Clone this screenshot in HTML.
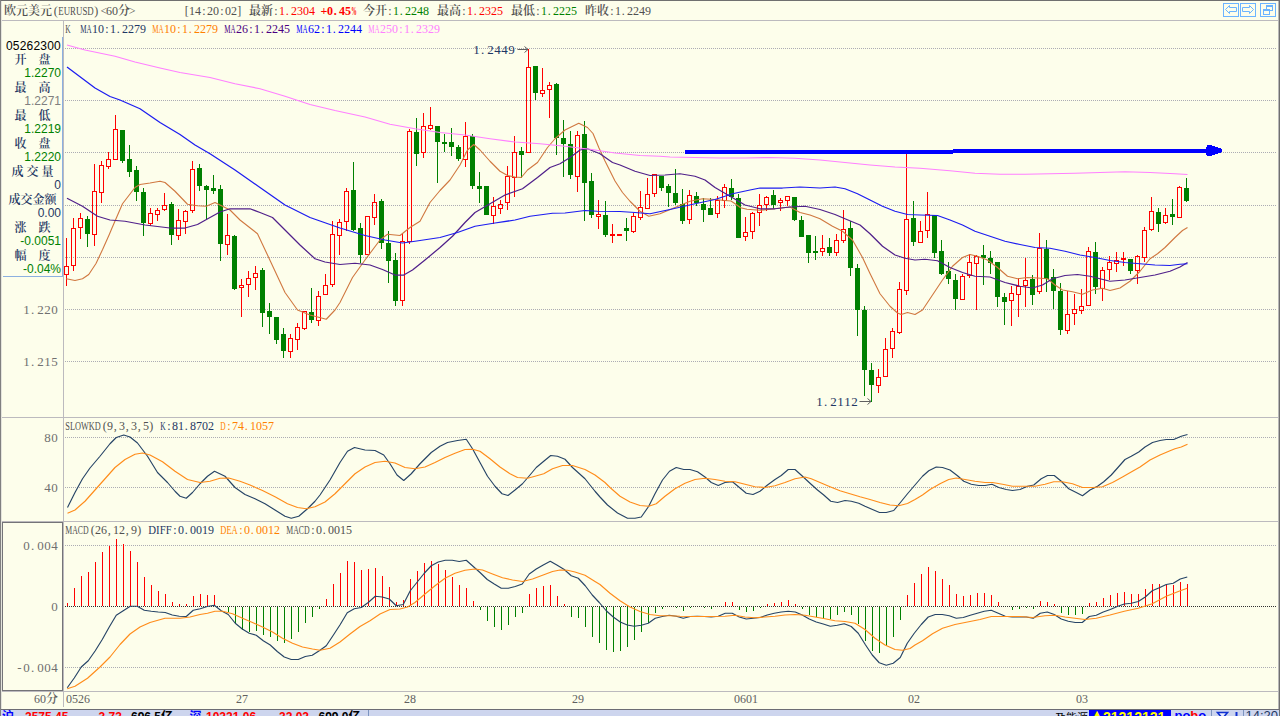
<!DOCTYPE html>
<html lang="zh-CN"><head><meta charset="utf-8"><title>欧元美元(EURUSD) 60分</title>
<style>html,body{margin:0;padding:0;background:#FDFEEB;}
body{width:1280px;height:716px;overflow:hidden;position:relative;font-family:"Liberation Serif","Noto Serif CJK SC",serif;}
svg text{white-space:pre;}</style></head>
<body>
<svg width="1280" height="716" viewBox="0 0 1280 716" style="position:absolute;left:0;top:0;display:block">
<rect x="0" y="0" width="1280" height="716" fill="#FDFEEB" />
<g shape-rendering="crispEdges">
<line x1="2" y1="20.5" x2="1278" y2="20.5" stroke="#BCBABE" stroke-width="1" />
<line x1="63.5" y1="21" x2="63.5" y2="707" stroke="#BCBABE" stroke-width="1" />
<line x1="2" y1="417.5" x2="1278" y2="417.5" stroke="#BCBABE" stroke-width="1" />
<line x1="2" y1="521.5" x2="1278" y2="521.5" stroke="#BCBABE" stroke-width="1" />
<line x1="2" y1="691.5" x2="1278" y2="691.5" stroke="#BCBABE" stroke-width="1" />
<line x1="62.5" y1="37" x2="62.5" y2="277" stroke="#8CB0E0" stroke-width="1" />
<line x1="3" y1="276.5" x2="63" y2="276.5" stroke="#8CB0E0" stroke-width="1" />
<rect x="2.5" y="522.5" width="60" height="168" fill="none" stroke="#747478" />
<line x1="65" y1="48.5" x2="1277" y2="48.5" stroke="#ACACB4" stroke-width="1" stroke-dasharray="1 1"/>
<line x1="65" y1="100.5" x2="1277" y2="100.5" stroke="#ACACB4" stroke-width="1" stroke-dasharray="1 1"/>
<line x1="65" y1="152.5" x2="1277" y2="152.5" stroke="#ACACB4" stroke-width="1" stroke-dasharray="1 1"/>
<line x1="65" y1="205.5" x2="1277" y2="205.5" stroke="#ACACB4" stroke-width="1" stroke-dasharray="1 1"/>
<line x1="65" y1="257.5" x2="1277" y2="257.5" stroke="#ACACB4" stroke-width="1" stroke-dasharray="1 1"/>
<line x1="65" y1="309.5" x2="1277" y2="309.5" stroke="#ACACB4" stroke-width="1" stroke-dasharray="1 1"/>
<line x1="65" y1="361.5" x2="1277" y2="361.5" stroke="#ACACB4" stroke-width="1" stroke-dasharray="1 1"/>
<line x1="65" y1="437.5" x2="1277" y2="437.5" stroke="#ACACB4" stroke-width="1" stroke-dasharray="1 1"/>
<line x1="65" y1="487.5" x2="1277" y2="487.5" stroke="#ACACB4" stroke-width="1" stroke-dasharray="1 1"/>
<line x1="65" y1="545.5" x2="1277" y2="545.5" stroke="#ACACB4" stroke-width="1" stroke-dasharray="1 1"/>
<line x1="65" y1="667.5" x2="1277" y2="667.5" stroke="#ACACB4" stroke-width="1" stroke-dasharray="1 1"/>
<line x1="65" y1="606.5" x2="1277" y2="606.5" stroke="#303030" stroke-width="1" stroke-dasharray="1 1"/>
<line x1="0" y1="0.5" x2="1280" y2="0.5" stroke="#707070" stroke-width="1" />
<line x1="0.5" y1="0" x2="0.5" y2="716" stroke="#808080" stroke-width="1" />
<line x1="1.5" y1="1" x2="1.5" y2="716" stroke="#E4E4DC" stroke-width="1" />
<line x1="1279.5" y1="0" x2="1279.5" y2="716" stroke="#707070" stroke-width="1" />
<line x1="1278.5" y1="1" x2="1278.5" y2="716" stroke="#B8B8B8" stroke-width="1" />
</g>
<g shape-rendering="crispEdges">
<rect x="66" y="238" width="1" height="28" fill="#FF0000" />
<rect x="66" y="275" width="1" height="11" fill="#FF0000" />
<rect x="64.5" y="266.5" width="4" height="8" fill="none" stroke="#FF0000" />
<rect x="73" y="218" width="1" height="10" fill="#FF0000" />
<rect x="73" y="266" width="1" height="5" fill="#FF0000" />
<rect x="71.5" y="228.5" width="4" height="37" fill="none" stroke="#FF0000" />
<rect x="80" y="213" width="1" height="5" fill="#FF0000" />
<rect x="80" y="228" width="1" height="11" fill="#FF0000" />
<rect x="78.5" y="218.5" width="4" height="9" fill="none" stroke="#FF0000" />
<rect x="87" y="216" width="1" height="31" fill="#008000" />
<rect x="85" y="219" width="5" height="15" fill="#008000" />
<rect x="94" y="164" width="1" height="27" fill="#FF0000" />
<rect x="94" y="235" width="1" height="11" fill="#FF0000" />
<rect x="92.5" y="191.5" width="4" height="43" fill="none" stroke="#FF0000" />
<rect x="101" y="161" width="1" height="4" fill="#FF0000" />
<rect x="101" y="193" width="1" height="10" fill="#FF0000" />
<rect x="99.5" y="165.5" width="4" height="27" fill="none" stroke="#FF0000" />
<rect x="108" y="152" width="1" height="7" fill="#FF0000" />
<rect x="108" y="167" width="1" height="2" fill="#FF0000" />
<rect x="106.5" y="159.5" width="4" height="7" fill="none" stroke="#FF0000" />
<rect x="115" y="115" width="1" height="14" fill="#FF0000" />
<rect x="113.5" y="129.5" width="4" height="30" fill="none" stroke="#FF0000" />
<rect x="122" y="130" width="1" height="33" fill="#008000" />
<rect x="120" y="130" width="5" height="31" fill="#008000" />
<rect x="129" y="145" width="1" height="32" fill="#008000" />
<rect x="127" y="159" width="5" height="13" fill="#008000" />
<rect x="136" y="166" width="1" height="35" fill="#008000" />
<rect x="134" y="170" width="5" height="22" fill="#008000" />
<rect x="143" y="188" width="1" height="48" fill="#008000" />
<rect x="141" y="192" width="5" height="31" fill="#008000" />
<rect x="150" y="208" width="1" height="5" fill="#FF0000" />
<rect x="150" y="224" width="1" height="2" fill="#FF0000" />
<rect x="148.5" y="213.5" width="4" height="10" fill="none" stroke="#FF0000" />
<rect x="157" y="208" width="1" height="2" fill="#FF0000" />
<rect x="157" y="215" width="1" height="6" fill="#FF0000" />
<rect x="155.5" y="210.5" width="4" height="4" fill="none" stroke="#FF0000" />
<rect x="164" y="193" width="1" height="12" fill="#FF0000" />
<rect x="164" y="210" width="1" height="1" fill="#FF0000" />
<rect x="162.5" y="205.5" width="4" height="4" fill="none" stroke="#FF0000" />
<rect x="171" y="202" width="1" height="43" fill="#008000" />
<rect x="169" y="204" width="5" height="31" fill="#008000" />
<rect x="178" y="209" width="1" height="11" fill="#FF0000" />
<rect x="178" y="236" width="1" height="4" fill="#FF0000" />
<rect x="176.5" y="220.5" width="4" height="15" fill="none" stroke="#FF0000" />
<rect x="185" y="210" width="1" height="1" fill="#FF0000" />
<rect x="185" y="222" width="1" height="12" fill="#FF0000" />
<rect x="183.5" y="211.5" width="4" height="10" fill="none" stroke="#FF0000" />
<rect x="192" y="161" width="1" height="8" fill="#FF0000" />
<rect x="192" y="211" width="1" height="2" fill="#FF0000" />
<rect x="190.5" y="169.5" width="4" height="41" fill="none" stroke="#FF0000" />
<rect x="199" y="164" width="1" height="27" fill="#008000" />
<rect x="197" y="168" width="5" height="18" fill="#008000" />
<rect x="206" y="185" width="1" height="35" fill="#008000" />
<rect x="204" y="186" width="5" height="4" fill="#008000" />
<rect x="213" y="175" width="1" height="19" fill="#008000" />
<rect x="211" y="188" width="5" height="3" fill="#008000" />
<rect x="220" y="185" width="1" height="76" fill="#008000" />
<rect x="218" y="189" width="5" height="55" fill="#008000" />
<rect x="227" y="214" width="1" height="21" fill="#FF0000" />
<rect x="227" y="245" width="1" height="10" fill="#FF0000" />
<rect x="225.5" y="235.5" width="4" height="9" fill="none" stroke="#FF0000" />
<rect x="234" y="235" width="1" height="55" fill="#008000" />
<rect x="232" y="236" width="5" height="53" fill="#008000" />
<rect x="241" y="279" width="1" height="6" fill="#FF0000" />
<rect x="241" y="288" width="1" height="29" fill="#FF0000" />
<rect x="239.5" y="285.5" width="4" height="2" fill="none" stroke="#FF0000" />
<rect x="248" y="271" width="1" height="7" fill="#FF0000" />
<rect x="248" y="285" width="1" height="12" fill="#FF0000" />
<rect x="246.5" y="278.5" width="4" height="6" fill="none" stroke="#FF0000" />
<rect x="255" y="266" width="1" height="7" fill="#FF0000" />
<rect x="255" y="278" width="1" height="12" fill="#FF0000" />
<rect x="253.5" y="273.5" width="4" height="4" fill="none" stroke="#FF0000" />
<rect x="262" y="268" width="1" height="59" fill="#008000" />
<rect x="260" y="270" width="5" height="43" fill="#008000" />
<rect x="269" y="303" width="1" height="31" fill="#008000" />
<rect x="267" y="311" width="5" height="6" fill="#008000" />
<rect x="276" y="317" width="1" height="27" fill="#008000" />
<rect x="274" y="317" width="5" height="23" fill="#008000" />
<rect x="283" y="328" width="1" height="30" fill="#008000" />
<rect x="281" y="334" width="5" height="17" fill="#008000" />
<rect x="290" y="334" width="1" height="4" fill="#FF0000" />
<rect x="290" y="352" width="1" height="6" fill="#FF0000" />
<rect x="288.5" y="338.5" width="4" height="13" fill="none" stroke="#FF0000" />
<rect x="297" y="323" width="1" height="4" fill="#FF0000" />
<rect x="297" y="340" width="1" height="10" fill="#FF0000" />
<rect x="295.5" y="327.5" width="4" height="12" fill="none" stroke="#FF0000" />
<rect x="304" y="329" width="1" height="1" fill="#FF0000" />
<rect x="302.5" y="311.5" width="4" height="17" fill="none" stroke="#FF0000" />
<rect x="311" y="288" width="1" height="35" fill="#008000" />
<rect x="309" y="312" width="5" height="8" fill="#008000" />
<rect x="318" y="291" width="1" height="5" fill="#FF0000" />
<rect x="318" y="321" width="1" height="5" fill="#FF0000" />
<rect x="316.5" y="296.5" width="4" height="24" fill="none" stroke="#FF0000" />
<rect x="325" y="274" width="1" height="11" fill="#FF0000" />
<rect x="323.5" y="285.5" width="4" height="9" fill="none" stroke="#FF0000" />
<rect x="332" y="221" width="1" height="13" fill="#FF0000" />
<rect x="332" y="285" width="1" height="2" fill="#FF0000" />
<rect x="330.5" y="234.5" width="4" height="50" fill="none" stroke="#FF0000" />
<rect x="339" y="219" width="1" height="3" fill="#FF0000" />
<rect x="339" y="236" width="1" height="19" fill="#FF0000" />
<rect x="337.5" y="222.5" width="4" height="13" fill="none" stroke="#FF0000" />
<rect x="346" y="188" width="1" height="3" fill="#FF0000" />
<rect x="346" y="222" width="1" height="9" fill="#FF0000" />
<rect x="344.5" y="191.5" width="4" height="30" fill="none" stroke="#FF0000" />
<rect x="353" y="162" width="1" height="69" fill="#008000" />
<rect x="351" y="190" width="5" height="40" fill="#008000" />
<rect x="360" y="223" width="1" height="40" fill="#008000" />
<rect x="358" y="228" width="5" height="27" fill="#008000" />
<rect x="365.5" y="216.5" width="4" height="38" fill="none" stroke="#FF0000" />
<rect x="374" y="194" width="1" height="8" fill="#FF0000" />
<rect x="374" y="218" width="1" height="7" fill="#FF0000" />
<rect x="372.5" y="202.5" width="4" height="15" fill="none" stroke="#FF0000" />
<rect x="381" y="199" width="1" height="50" fill="#008000" />
<rect x="379" y="201" width="5" height="42" fill="#008000" />
<rect x="388" y="231" width="1" height="52" fill="#008000" />
<rect x="386" y="243" width="5" height="18" fill="#008000" />
<rect x="395" y="253" width="1" height="53" fill="#008000" />
<rect x="393" y="260" width="5" height="41" fill="#008000" />
<rect x="402" y="233" width="1" height="8" fill="#FF0000" />
<rect x="402" y="301" width="1" height="5" fill="#FF0000" />
<rect x="400.5" y="241.5" width="4" height="59" fill="none" stroke="#FF0000" />
<rect x="409" y="129" width="1" height="2" fill="#FF0000" />
<rect x="409" y="242" width="1" height="2" fill="#FF0000" />
<rect x="407.5" y="131.5" width="4" height="110" fill="none" stroke="#FF0000" />
<rect x="416" y="118" width="1" height="48" fill="#008000" />
<rect x="414" y="132" width="5" height="22" fill="#008000" />
<rect x="423" y="113" width="1" height="13" fill="#FF0000" />
<rect x="423" y="153" width="1" height="5" fill="#FF0000" />
<rect x="421.5" y="126.5" width="4" height="26" fill="none" stroke="#FF0000" />
<rect x="430" y="107" width="1" height="18" fill="#FF0000" />
<rect x="430" y="129" width="1" height="1" fill="#FF0000" />
<rect x="428.5" y="125.5" width="4" height="3" fill="none" stroke="#FF0000" />
<rect x="437" y="126" width="1" height="57" fill="#008000" />
<rect x="435" y="126" width="5" height="16" fill="#008000" />
<rect x="444" y="134" width="1" height="18" fill="#008000" />
<rect x="442" y="142" width="5" height="2" fill="#008000" />
<rect x="451" y="128" width="1" height="28" fill="#008000" />
<rect x="449" y="142" width="5" height="5" fill="#008000" />
<rect x="458" y="145" width="1" height="16" fill="#008000" />
<rect x="456" y="147" width="5" height="12" fill="#008000" />
<rect x="465" y="122" width="1" height="14" fill="#FF0000" />
<rect x="465" y="160" width="1" height="7" fill="#FF0000" />
<rect x="463.5" y="136.5" width="4" height="23" fill="none" stroke="#FF0000" />
<rect x="472" y="134" width="1" height="55" fill="#008000" />
<rect x="470" y="136" width="5" height="50" fill="#008000" />
<rect x="479" y="172" width="1" height="31" fill="#008000" />
<rect x="477" y="186" width="5" height="3" fill="#008000" />
<rect x="486" y="186" width="1" height="29" fill="#008000" />
<rect x="484" y="186" width="5" height="29" fill="#008000" />
<rect x="493" y="197" width="1" height="9" fill="#FF0000" />
<rect x="493" y="216" width="1" height="8" fill="#FF0000" />
<rect x="491.5" y="206.5" width="4" height="9" fill="none" stroke="#FF0000" />
<rect x="500" y="200" width="1" height="4" fill="#FF0000" />
<rect x="500" y="209" width="1" height="5" fill="#FF0000" />
<rect x="498.5" y="204.5" width="4" height="4" fill="none" stroke="#FF0000" />
<rect x="507" y="166" width="1" height="10" fill="#FF0000" />
<rect x="507" y="203" width="1" height="7" fill="#FF0000" />
<rect x="505.5" y="176.5" width="4" height="26" fill="none" stroke="#FF0000" />
<rect x="514" y="136" width="1" height="16" fill="#FF0000" />
<rect x="514" y="178" width="1" height="19" fill="#FF0000" />
<rect x="512.5" y="152.5" width="4" height="25" fill="none" stroke="#FF0000" />
<rect x="521" y="147" width="1" height="31" fill="#008000" />
<rect x="519" y="151" width="5" height="4" fill="#008000" />
<rect x="528" y="49" width="1" height="18" fill="#FF0000" />
<rect x="526.5" y="67.5" width="4" height="85" fill="none" stroke="#FF0000" />
<rect x="535" y="66" width="1" height="34" fill="#008000" />
<rect x="533" y="66" width="5" height="27" fill="#008000" />
<rect x="542" y="68" width="1" height="22" fill="#FF0000" />
<rect x="542" y="94" width="1" height="3" fill="#FF0000" />
<rect x="540.5" y="90.5" width="4" height="3" fill="none" stroke="#FF0000" />
<rect x="549" y="82" width="1" height="3" fill="#FF0000" />
<rect x="549" y="90" width="1" height="28" fill="#FF0000" />
<rect x="547.5" y="85.5" width="4" height="4" fill="none" stroke="#FF0000" />
<rect x="556" y="83" width="1" height="72" fill="#008000" />
<rect x="554" y="84" width="5" height="54" fill="#008000" />
<rect x="563" y="120" width="1" height="57" fill="#008000" />
<rect x="561" y="138" width="5" height="6" fill="#008000" />
<rect x="570" y="131" width="1" height="48" fill="#008000" />
<rect x="568" y="144" width="5" height="31" fill="#008000" />
<rect x="577" y="131" width="1" height="4" fill="#FF0000" />
<rect x="577" y="177" width="1" height="15" fill="#FF0000" />
<rect x="575.5" y="135.5" width="4" height="41" fill="none" stroke="#FF0000" />
<rect x="584" y="121" width="1" height="100" fill="#008000" />
<rect x="582" y="134" width="5" height="49" fill="#008000" />
<rect x="591" y="173" width="1" height="45" fill="#008000" />
<rect x="589" y="181" width="5" height="34" fill="#008000" />
<rect x="598" y="200" width="1" height="14" fill="#FF0000" />
<rect x="598" y="217" width="1" height="12" fill="#FF0000" />
<rect x="596.5" y="214.5" width="4" height="2" fill="none" stroke="#FF0000" />
<rect x="605" y="201" width="1" height="36" fill="#008000" />
<rect x="603" y="215" width="5" height="20" fill="#008000" />
<rect x="612" y="224" width="1" height="10" fill="#FF0000" />
<rect x="612" y="236" width="1" height="7" fill="#FF0000" />
<rect x="610.5" y="234.5" width="4" height="1" fill="none" stroke="#FF0000" />
<rect x="617.5" y="234.5" width="4" height="1" fill="none" stroke="#FF0000" />
<rect x="626" y="218" width="1" height="23" fill="#008000" />
<rect x="624" y="228" width="5" height="3" fill="#008000" />
<rect x="633" y="213" width="1" height="3" fill="#FF0000" />
<rect x="633" y="232" width="1" height="1" fill="#FF0000" />
<rect x="631.5" y="216.5" width="4" height="15" fill="none" stroke="#FF0000" />
<rect x="640" y="191" width="1" height="16" fill="#FF0000" />
<rect x="640" y="218" width="1" height="2" fill="#FF0000" />
<rect x="638.5" y="207.5" width="4" height="10" fill="none" stroke="#FF0000" />
<rect x="647" y="178" width="1" height="16" fill="#FF0000" />
<rect x="645.5" y="194.5" width="4" height="14" fill="none" stroke="#FF0000" />
<rect x="654" y="194" width="1" height="3" fill="#FF0000" />
<rect x="652.5" y="174.5" width="4" height="19" fill="none" stroke="#FF0000" />
<rect x="661" y="176" width="1" height="15" fill="#008000" />
<rect x="659" y="176" width="5" height="12" fill="#008000" />
<rect x="668" y="184" width="1" height="23" fill="#008000" />
<rect x="666" y="186" width="5" height="7" fill="#008000" />
<rect x="675" y="169" width="1" height="36" fill="#008000" />
<rect x="673" y="193" width="5" height="10" fill="#008000" />
<rect x="682" y="189" width="1" height="35" fill="#008000" />
<rect x="680" y="204" width="5" height="17" fill="#008000" />
<rect x="689" y="190" width="1" height="5" fill="#FF0000" />
<rect x="689" y="220" width="1" height="4" fill="#FF0000" />
<rect x="687.5" y="195.5" width="4" height="24" fill="none" stroke="#FF0000" />
<rect x="696" y="192" width="1" height="14" fill="#008000" />
<rect x="694" y="196" width="5" height="7" fill="#008000" />
<rect x="703" y="198" width="1" height="24" fill="#008000" />
<rect x="701" y="204" width="5" height="6" fill="#008000" />
<rect x="710" y="198" width="1" height="17" fill="#008000" />
<rect x="708" y="208" width="5" height="7" fill="#008000" />
<rect x="717" y="196" width="1" height="4" fill="#FF0000" />
<rect x="717" y="214" width="1" height="4" fill="#FF0000" />
<rect x="715.5" y="200.5" width="4" height="13" fill="none" stroke="#FF0000" />
<rect x="724" y="184" width="1" height="3" fill="#FF0000" />
<rect x="724" y="201" width="1" height="7" fill="#FF0000" />
<rect x="722.5" y="187.5" width="4" height="13" fill="none" stroke="#FF0000" />
<rect x="731" y="179" width="1" height="21" fill="#008000" />
<rect x="729" y="188" width="5" height="9" fill="#008000" />
<rect x="738" y="194" width="1" height="44" fill="#008000" />
<rect x="736" y="198" width="5" height="40" fill="#008000" />
<rect x="745" y="217" width="1" height="15" fill="#FF0000" />
<rect x="745" y="237" width="1" height="4" fill="#FF0000" />
<rect x="743.5" y="232.5" width="4" height="4" fill="none" stroke="#FF0000" />
<rect x="752" y="212" width="1" height="1" fill="#FF0000" />
<rect x="752" y="232" width="1" height="7" fill="#FF0000" />
<rect x="750.5" y="213.5" width="4" height="18" fill="none" stroke="#FF0000" />
<rect x="759" y="194" width="1" height="11" fill="#FF0000" />
<rect x="759" y="213" width="1" height="13" fill="#FF0000" />
<rect x="757.5" y="205.5" width="4" height="7" fill="none" stroke="#FF0000" />
<rect x="766" y="196" width="1" height="1" fill="#FF0000" />
<rect x="766" y="205" width="1" height="6" fill="#FF0000" />
<rect x="764.5" y="197.5" width="4" height="7" fill="none" stroke="#FF0000" />
<rect x="773" y="190" width="1" height="19" fill="#008000" />
<rect x="771" y="195" width="5" height="10" fill="#008000" />
<rect x="780" y="198" width="1" height="2" fill="#FF0000" />
<rect x="780" y="203" width="1" height="8" fill="#FF0000" />
<rect x="778.5" y="200.5" width="4" height="2" fill="none" stroke="#FF0000" />
<rect x="787" y="201" width="1" height="5" fill="#FF0000" />
<rect x="785.5" y="196.5" width="4" height="4" fill="none" stroke="#FF0000" />
<rect x="794" y="197" width="1" height="24" fill="#008000" />
<rect x="792" y="197" width="5" height="23" fill="#008000" />
<rect x="801" y="216" width="1" height="21" fill="#008000" />
<rect x="799" y="220" width="5" height="17" fill="#008000" />
<rect x="808" y="235" width="1" height="28" fill="#008000" />
<rect x="806" y="235" width="5" height="18" fill="#008000" />
<rect x="815" y="236" width="1" height="24" fill="#008000" />
<rect x="813" y="251" width="5" height="2" fill="#008000" />
<rect x="822" y="235" width="1" height="13" fill="#FF0000" />
<rect x="822" y="252" width="1" height="4" fill="#FF0000" />
<rect x="820.5" y="248.5" width="4" height="3" fill="none" stroke="#FF0000" />
<rect x="829" y="238" width="1" height="18" fill="#008000" />
<rect x="827" y="247" width="5" height="6" fill="#008000" />
<rect x="836" y="234" width="1" height="6" fill="#FF0000" />
<rect x="836" y="253" width="1" height="3" fill="#FF0000" />
<rect x="834.5" y="240.5" width="4" height="12" fill="none" stroke="#FF0000" />
<rect x="843" y="210" width="1" height="19" fill="#FF0000" />
<rect x="843" y="241" width="1" height="2" fill="#FF0000" />
<rect x="841.5" y="229.5" width="4" height="11" fill="none" stroke="#FF0000" />
<rect x="850" y="221" width="1" height="55" fill="#008000" />
<rect x="848" y="228" width="5" height="40" fill="#008000" />
<rect x="857" y="264" width="1" height="72" fill="#008000" />
<rect x="855" y="268" width="5" height="42" fill="#008000" />
<rect x="864" y="306" width="1" height="90" fill="#008000" />
<rect x="862" y="310" width="5" height="60" fill="#008000" />
<rect x="871" y="363" width="1" height="39" fill="#008000" />
<rect x="869" y="370" width="5" height="15" fill="#008000" />
<rect x="878" y="369" width="1" height="8" fill="#FF0000" />
<rect x="878" y="386" width="1" height="7" fill="#FF0000" />
<rect x="876.5" y="377.5" width="4" height="8" fill="none" stroke="#FF0000" />
<rect x="885" y="338" width="1" height="11" fill="#FF0000" />
<rect x="883.5" y="349.5" width="4" height="27" fill="none" stroke="#FF0000" />
<rect x="892" y="328" width="1" height="3" fill="#FF0000" />
<rect x="892" y="349" width="1" height="9" fill="#FF0000" />
<rect x="890.5" y="331.5" width="4" height="17" fill="none" stroke="#FF0000" />
<rect x="899" y="282" width="1" height="7" fill="#FF0000" />
<rect x="899" y="333" width="1" height="1" fill="#FF0000" />
<rect x="897.5" y="289.5" width="4" height="43" fill="none" stroke="#FF0000" />
<rect x="906" y="154" width="1" height="65" fill="#FF0000" />
<rect x="906" y="291" width="1" height="4" fill="#FF0000" />
<rect x="904.5" y="219.5" width="4" height="71" fill="none" stroke="#FF0000" />
<rect x="913" y="201" width="1" height="45" fill="#008000" />
<rect x="911" y="218" width="5" height="24" fill="#008000" />
<rect x="920" y="221" width="1" height="10" fill="#FF0000" />
<rect x="918.5" y="231.5" width="4" height="11" fill="none" stroke="#FF0000" />
<rect x="927" y="192" width="1" height="22" fill="#FF0000" />
<rect x="927" y="231" width="1" height="7" fill="#FF0000" />
<rect x="925.5" y="214.5" width="4" height="16" fill="none" stroke="#FF0000" />
<rect x="934" y="215" width="1" height="43" fill="#008000" />
<rect x="932" y="215" width="5" height="38" fill="#008000" />
<rect x="941" y="240" width="1" height="35" fill="#008000" />
<rect x="939" y="251" width="5" height="23" fill="#008000" />
<rect x="948" y="262" width="1" height="22" fill="#008000" />
<rect x="946" y="271" width="5" height="8" fill="#008000" />
<rect x="955" y="274" width="1" height="36" fill="#008000" />
<rect x="953" y="280" width="5" height="19" fill="#008000" />
<rect x="962" y="274" width="1" height="2" fill="#FF0000" />
<rect x="960.5" y="276.5" width="4" height="23" fill="none" stroke="#FF0000" />
<rect x="969" y="254" width="1" height="8" fill="#FF0000" />
<rect x="969" y="276" width="1" height="2" fill="#FF0000" />
<rect x="967.5" y="262.5" width="4" height="13" fill="none" stroke="#FF0000" />
<rect x="976" y="255" width="1" height="1" fill="#FF0000" />
<rect x="976" y="264" width="1" height="46" fill="#FF0000" />
<rect x="974.5" y="256.5" width="4" height="7" fill="none" stroke="#FF0000" />
<rect x="983" y="245" width="1" height="40" fill="#008000" />
<rect x="981" y="255" width="5" height="3" fill="#008000" />
<rect x="990" y="251" width="1" height="23" fill="#008000" />
<rect x="988" y="258" width="5" height="5" fill="#008000" />
<rect x="997" y="262" width="1" height="45" fill="#008000" />
<rect x="995" y="262" width="5" height="35" fill="#008000" />
<rect x="1004" y="293" width="1" height="32" fill="#008000" />
<rect x="1002" y="297" width="5" height="5" fill="#008000" />
<rect x="1011" y="286" width="1" height="7" fill="#FF0000" />
<rect x="1011" y="301" width="1" height="25" fill="#FF0000" />
<rect x="1009.5" y="293.5" width="4" height="7" fill="none" stroke="#FF0000" />
<rect x="1018" y="278" width="1" height="8" fill="#FF0000" />
<rect x="1018" y="295" width="1" height="22" fill="#FF0000" />
<rect x="1016.5" y="286.5" width="4" height="8" fill="none" stroke="#FF0000" />
<rect x="1025" y="258" width="1" height="22" fill="#FF0000" />
<rect x="1025" y="286" width="1" height="21" fill="#FF0000" />
<rect x="1023.5" y="280.5" width="4" height="5" fill="none" stroke="#FF0000" />
<rect x="1032" y="275" width="1" height="30" fill="#008000" />
<rect x="1030" y="279" width="5" height="16" fill="#008000" />
<rect x="1039" y="233" width="1" height="15" fill="#FF0000" />
<rect x="1039" y="292" width="1" height="2" fill="#FF0000" />
<rect x="1037.5" y="248.5" width="4" height="43" fill="none" stroke="#FF0000" />
<rect x="1046" y="240" width="1" height="52" fill="#008000" />
<rect x="1044" y="249" width="5" height="30" fill="#008000" />
<rect x="1053" y="269" width="1" height="40" fill="#008000" />
<rect x="1051" y="277" width="5" height="14" fill="#008000" />
<rect x="1060" y="283" width="1" height="52" fill="#008000" />
<rect x="1058" y="291" width="5" height="39" fill="#008000" />
<rect x="1067" y="291" width="1" height="23" fill="#FF0000" />
<rect x="1067" y="331" width="1" height="3" fill="#FF0000" />
<rect x="1065.5" y="314.5" width="4" height="16" fill="none" stroke="#FF0000" />
<rect x="1074" y="294" width="1" height="15" fill="#FF0000" />
<rect x="1074" y="314" width="1" height="11" fill="#FF0000" />
<rect x="1072.5" y="309.5" width="4" height="4" fill="none" stroke="#FF0000" />
<rect x="1081" y="289" width="1" height="17" fill="#FF0000" />
<rect x="1081" y="311" width="1" height="3" fill="#FF0000" />
<rect x="1079.5" y="306.5" width="4" height="4" fill="none" stroke="#FF0000" />
<rect x="1088" y="247" width="1" height="4" fill="#FF0000" />
<rect x="1086.5" y="251.5" width="4" height="54" fill="none" stroke="#FF0000" />
<rect x="1095" y="242" width="1" height="52" fill="#008000" />
<rect x="1093" y="252" width="5" height="35" fill="#008000" />
<rect x="1102" y="267" width="1" height="3" fill="#FF0000" />
<rect x="1102" y="289" width="1" height="12" fill="#FF0000" />
<rect x="1100.5" y="270.5" width="4" height="18" fill="none" stroke="#FF0000" />
<rect x="1109" y="256" width="1" height="6" fill="#FF0000" />
<rect x="1109" y="270" width="1" height="10" fill="#FF0000" />
<rect x="1107.5" y="262.5" width="4" height="7" fill="none" stroke="#FF0000" />
<rect x="1116" y="252" width="1" height="8" fill="#FF0000" />
<rect x="1116" y="264" width="1" height="8" fill="#FF0000" />
<rect x="1114.5" y="260.5" width="4" height="3" fill="none" stroke="#FF0000" />
<rect x="1123" y="252" width="1" height="6" fill="#FF0000" />
<rect x="1123" y="260" width="1" height="6" fill="#FF0000" />
<rect x="1121.5" y="258.5" width="4" height="1" fill="none" stroke="#FF0000" />
<rect x="1130" y="259" width="1" height="15" fill="#008000" />
<rect x="1128" y="259" width="5" height="12" fill="#008000" />
<rect x="1137" y="255" width="1" height="1" fill="#FF0000" />
<rect x="1137" y="271" width="1" height="13" fill="#FF0000" />
<rect x="1135.5" y="256.5" width="4" height="14" fill="none" stroke="#FF0000" />
<rect x="1144" y="227" width="1" height="3" fill="#FF0000" />
<rect x="1144" y="258" width="1" height="4" fill="#FF0000" />
<rect x="1142.5" y="230.5" width="4" height="27" fill="none" stroke="#FF0000" />
<rect x="1151" y="197" width="1" height="14" fill="#FF0000" />
<rect x="1151" y="230" width="1" height="1" fill="#FF0000" />
<rect x="1149.5" y="211.5" width="4" height="18" fill="none" stroke="#FF0000" />
<rect x="1158" y="208" width="1" height="24" fill="#008000" />
<rect x="1156" y="212" width="5" height="12" fill="#008000" />
<rect x="1165" y="208" width="1" height="7" fill="#FF0000" />
<rect x="1165" y="223" width="1" height="1" fill="#FF0000" />
<rect x="1163.5" y="215.5" width="4" height="7" fill="none" stroke="#FF0000" />
<rect x="1172" y="199" width="1" height="26" fill="#008000" />
<rect x="1170" y="214" width="5" height="3" fill="#008000" />
<rect x="1179" y="186" width="1" height="1" fill="#FF0000" />
<rect x="1177.5" y="187.5" width="4" height="30" fill="none" stroke="#FF0000" />
<rect x="1186" y="178" width="1" height="24" fill="#008000" />
<rect x="1184" y="188" width="5" height="13" fill="#008000" />
<rect x="67" y="603" width="1" height="3" fill="#FF0000" />
<rect x="74" y="588" width="1" height="18" fill="#FF0000" />
<rect x="81" y="576" width="1" height="30" fill="#FF0000" />
<rect x="88" y="572" width="1" height="34" fill="#FF0000" />
<rect x="95" y="562" width="1" height="44" fill="#FF0000" />
<rect x="102" y="552" width="1" height="54" fill="#FF0000" />
<rect x="109" y="546" width="1" height="60" fill="#FF0000" />
<rect x="116" y="539" width="1" height="67" fill="#FF0000" />
<rect x="123" y="544" width="1" height="62" fill="#FF0000" />
<rect x="130" y="551" width="1" height="55" fill="#FF0000" />
<rect x="137" y="562" width="1" height="44" fill="#FF0000" />
<rect x="144" y="577" width="1" height="29" fill="#FF0000" />
<rect x="151" y="585" width="1" height="21" fill="#FF0000" />
<rect x="158" y="591" width="1" height="15" fill="#FF0000" />
<rect x="165" y="594" width="1" height="12" fill="#FF0000" />
<rect x="172" y="602" width="1" height="4" fill="#FF0000" />
<rect x="179" y="604" width="1" height="2" fill="#FF0000" />
<rect x="186" y="604" width="1" height="2" fill="#FF0000" />
<rect x="193" y="596" width="1" height="10" fill="#FF0000" />
<rect x="200" y="594" width="1" height="12" fill="#FF0000" />
<rect x="207" y="595" width="1" height="11" fill="#FF0000" />
<rect x="214" y="595" width="1" height="11" fill="#FF0000" />
<rect x="228" y="607" width="1" height="5" fill="#008000" />
<rect x="235" y="607" width="1" height="17" fill="#008000" />
<rect x="242" y="607" width="1" height="23" fill="#008000" />
<rect x="249" y="607" width="1" height="25" fill="#008000" />
<rect x="256" y="607" width="1" height="24" fill="#008000" />
<rect x="263" y="607" width="1" height="28" fill="#008000" />
<rect x="270" y="607" width="1" height="30" fill="#008000" />
<rect x="277" y="607" width="1" height="34" fill="#008000" />
<rect x="284" y="607" width="1" height="36" fill="#008000" />
<rect x="291" y="607" width="1" height="32" fill="#008000" />
<rect x="298" y="607" width="1" height="25" fill="#008000" />
<rect x="305" y="607" width="1" height="16" fill="#008000" />
<rect x="312" y="607" width="1" height="10" fill="#008000" />
<rect x="319" y="607" width="1" height="2" fill="#008000" />
<rect x="326" y="599" width="1" height="7" fill="#FF0000" />
<rect x="333" y="584" width="1" height="22" fill="#FF0000" />
<rect x="340" y="573" width="1" height="33" fill="#FF0000" />
<rect x="347" y="561" width="1" height="45" fill="#FF0000" />
<rect x="354" y="562" width="1" height="44" fill="#FF0000" />
<rect x="361" y="570" width="1" height="36" fill="#FF0000" />
<rect x="368" y="569" width="1" height="37" fill="#FF0000" />
<rect x="375" y="568" width="1" height="38" fill="#FF0000" />
<rect x="382" y="576" width="1" height="30" fill="#FF0000" />
<rect x="389" y="587" width="1" height="19" fill="#FF0000" />
<rect x="396" y="602" width="1" height="4" fill="#FF0000" />
<rect x="403" y="600" width="1" height="6" fill="#FF0000" />
<rect x="410" y="579" width="1" height="27" fill="#FF0000" />
<rect x="417" y="571" width="1" height="35" fill="#FF0000" />
<rect x="424" y="563" width="1" height="43" fill="#FF0000" />
<rect x="431" y="561" width="1" height="45" fill="#FF0000" />
<rect x="438" y="564" width="1" height="42" fill="#FF0000" />
<rect x="445" y="570" width="1" height="36" fill="#FF0000" />
<rect x="452" y="577" width="1" height="29" fill="#FF0000" />
<rect x="459" y="585" width="1" height="21" fill="#FF0000" />
<rect x="466" y="588" width="1" height="18" fill="#FF0000" />
<rect x="473" y="601" width="1" height="5" fill="#FF0000" />
<rect x="480" y="607" width="1" height="3" fill="#008000" />
<rect x="487" y="607" width="1" height="14" fill="#008000" />
<rect x="494" y="607" width="1" height="20" fill="#008000" />
<rect x="501" y="607" width="1" height="23" fill="#008000" />
<rect x="508" y="607" width="1" height="18" fill="#008000" />
<rect x="515" y="607" width="1" height="10" fill="#008000" />
<rect x="522" y="607" width="1" height="6" fill="#008000" />
<rect x="529" y="594" width="1" height="12" fill="#FF0000" />
<rect x="536" y="588" width="1" height="18" fill="#FF0000" />
<rect x="543" y="586" width="1" height="20" fill="#FF0000" />
<rect x="550" y="585" width="1" height="21" fill="#FF0000" />
<rect x="557" y="596" width="1" height="10" fill="#FF0000" />
<rect x="564" y="604" width="1" height="2" fill="#FF0000" />
<rect x="571" y="607" width="1" height="10" fill="#008000" />
<rect x="578" y="607" width="1" height="11" fill="#008000" />
<rect x="585" y="607" width="1" height="20" fill="#008000" />
<rect x="592" y="607" width="1" height="30" fill="#008000" />
<rect x="599" y="607" width="1" height="36" fill="#008000" />
<rect x="606" y="607" width="1" height="43" fill="#008000" />
<rect x="613" y="607" width="1" height="45" fill="#008000" />
<rect x="620" y="607" width="1" height="44" fill="#008000" />
<rect x="627" y="607" width="1" height="40" fill="#008000" />
<rect x="634" y="607" width="1" height="33" fill="#008000" />
<rect x="641" y="607" width="1" height="25" fill="#008000" />
<rect x="648" y="607" width="1" height="16" fill="#008000" />
<rect x="655" y="607" width="1" height="6" fill="#008000" />
<rect x="662" y="607" width="1" height="2" fill="#008000" />
<rect x="676" y="607" width="1" height="1" fill="#008000" />
<rect x="683" y="607" width="1" height="4" fill="#008000" />
<rect x="690" y="607" width="1" height="1" fill="#008000" />
<rect x="704" y="607" width="1" height="1" fill="#008000" />
<rect x="711" y="607" width="1" height="2" fill="#008000" />
<rect x="725" y="602" width="1" height="4" fill="#FF0000" />
<rect x="732" y="602" width="1" height="4" fill="#FF0000" />
<rect x="739" y="607" width="1" height="3" fill="#008000" />
<rect x="746" y="607" width="1" height="5" fill="#008000" />
<rect x="753" y="607" width="1" height="4" fill="#008000" />
<rect x="760" y="607" width="1" height="1" fill="#008000" />
<rect x="767" y="604" width="1" height="2" fill="#FF0000" />
<rect x="774" y="603" width="1" height="3" fill="#FF0000" />
<rect x="781" y="602" width="1" height="4" fill="#FF0000" />
<rect x="788" y="600" width="1" height="6" fill="#FF0000" />
<rect x="795" y="604" width="1" height="2" fill="#FF0000" />
<rect x="802" y="607" width="1" height="2" fill="#008000" />
<rect x="809" y="607" width="1" height="8" fill="#008000" />
<rect x="816" y="607" width="1" height="10" fill="#008000" />
<rect x="823" y="607" width="1" height="12" fill="#008000" />
<rect x="830" y="607" width="1" height="12" fill="#008000" />
<rect x="837" y="607" width="1" height="8" fill="#008000" />
<rect x="844" y="607" width="1" height="5" fill="#008000" />
<rect x="851" y="607" width="1" height="8" fill="#008000" />
<rect x="858" y="607" width="1" height="17" fill="#008000" />
<rect x="865" y="607" width="1" height="34" fill="#008000" />
<rect x="872" y="607" width="1" height="44" fill="#008000" />
<rect x="879" y="607" width="1" height="46" fill="#008000" />
<rect x="886" y="607" width="1" height="39" fill="#008000" />
<rect x="893" y="607" width="1" height="30" fill="#008000" />
<rect x="900" y="607" width="1" height="13" fill="#008000" />
<rect x="907" y="595" width="1" height="11" fill="#FF0000" />
<rect x="914" y="583" width="1" height="23" fill="#FF0000" />
<rect x="921" y="574" width="1" height="32" fill="#FF0000" />
<rect x="928" y="567" width="1" height="39" fill="#FF0000" />
<rect x="935" y="571" width="1" height="35" fill="#FF0000" />
<rect x="942" y="579" width="1" height="27" fill="#FF0000" />
<rect x="949" y="585" width="1" height="21" fill="#FF0000" />
<rect x="956" y="594" width="1" height="12" fill="#FF0000" />
<rect x="963" y="596" width="1" height="10" fill="#FF0000" />
<rect x="970" y="595" width="1" height="11" fill="#FF0000" />
<rect x="977" y="593" width="1" height="13" fill="#FF0000" />
<rect x="984" y="593" width="1" height="13" fill="#FF0000" />
<rect x="991" y="595" width="1" height="11" fill="#FF0000" />
<rect x="998" y="602" width="1" height="4" fill="#FF0000" />
<rect x="1012" y="607" width="1" height="3" fill="#008000" />
<rect x="1019" y="607" width="1" height="2" fill="#008000" />
<rect x="1026" y="607" width="1" height="1" fill="#008000" />
<rect x="1033" y="607" width="1" height="2" fill="#008000" />
<rect x="1040" y="601" width="1" height="5" fill="#FF0000" />
<rect x="1047" y="602" width="1" height="4" fill="#FF0000" />
<rect x="1054" y="604" width="1" height="2" fill="#FF0000" />
<rect x="1061" y="607" width="1" height="6" fill="#008000" />
<rect x="1068" y="607" width="1" height="8" fill="#008000" />
<rect x="1075" y="607" width="1" height="8" fill="#008000" />
<rect x="1082" y="607" width="1" height="7" fill="#008000" />
<rect x="1089" y="603" width="1" height="3" fill="#FF0000" />
<rect x="1096" y="602" width="1" height="4" fill="#FF0000" />
<rect x="1103" y="598" width="1" height="8" fill="#FF0000" />
<rect x="1110" y="595" width="1" height="11" fill="#FF0000" />
<rect x="1117" y="593" width="1" height="13" fill="#FF0000" />
<rect x="1124" y="592" width="1" height="14" fill="#FF0000" />
<rect x="1131" y="594" width="1" height="12" fill="#FF0000" />
<rect x="1138" y="594" width="1" height="12" fill="#FF0000" />
<rect x="1145" y="589" width="1" height="17" fill="#FF0000" />
<rect x="1152" y="584" width="1" height="22" fill="#FF0000" />
<rect x="1159" y="584" width="1" height="22" fill="#FF0000" />
<rect x="1166" y="584" width="1" height="22" fill="#FF0000" />
<rect x="1173" y="585" width="1" height="21" fill="#FF0000" />
<rect x="1180" y="582" width="1" height="24" fill="#FF0000" />
<rect x="1187" y="584" width="1" height="22" fill="#FF0000" />
<rect x="685" y="150" width="268" height="4" fill="#0000FF" />
<rect x="953" y="149" width="254" height="4" fill="#0000FF" />
<polygon points="1206,147 1207,147 1207,145 1212,145 1212,146 1215,146 1215,147 1218,147 1218,148 1221,148 1221,149 1222,149 1222,152 1221,152 1221,153 1218,153 1218,154 1215,154 1215,155 1212,155 1212,156 1207,156 1207,155 1206,155" fill="#0000FF"/>
</g>
<polyline points="66.25,278.75 75,280.5 82.5,278.75 88.75,274.5 96,263.5 102.7,249.3 109.4,234.2 112,228 122.5,203.75 135,187.5 140,184.5 150,183 160,181.25 165,182.5 175,191.25 187.5,204.25 197.5,205.75 206.25,206.25 215,202.5 222.5,206.25 230,210 240,220 257.5,233.75 267.5,255 285,292.5 297.5,310 310,315 326.25,319.25 335,310 340,302.5 352.5,277.5 365,260 380,240 387.5,234.25 400,235.5 410,227.5 420,221.25 430,202.5 440,190.5 450,180 460,165 467.5,150 473.75,144.5 480,150 490,161.25 500,171.25 507.5,175.5 515,177 521.25,177.5 527.5,170 537.5,162.5 547.5,147.5 555,138.75 565,130 578.75,123.25 587.5,127.5 593,133.5 599,148 605,161 615,181 622.5,192.5 630,201.25 640,211.25 648.75,216.25 660,213.75 675,207.5 690,201.25 702.5,198.75 715,199.5 725,200.5 731,201 735.5,204 740.6,207.8 747,209.3 760,210.3 772,209 790,207 800,212.5 810,215 820,218.75 832.5,226.25 842.5,231.25 852.5,240 862.5,257.5 870,273.5 880,293.75 890,306.25 897.5,313 901.25,314.5 907.5,312.5 915,314.5 922.5,310 932.5,295 942.5,280 952.5,266.25 962.5,257.5 970,254.5 977.5,256.25 987.5,260 997.5,267.5 1007.5,276.25 1017.5,278.75 1027.5,277.5 1037.5,278 1047.5,278.75 1055,285 1062.5,290 1072.5,291.75 1082.5,294.25 1092.5,290 1102.5,288.25 1110,290.5 1120,288 1130,281.25 1140,271.25 1150,258.75 1157.5,253.75 1165,247.5 1175,237.5 1182.5,230.5 1187.5,227.5" fill="none" stroke="#D07840" stroke-width="1.1" stroke-linejoin="round" />
<polyline points="67,198.25 82.5,206.25 97.5,216.25 110,220 125,221.25 145,225 170,228 185,228 197.5,224.5 210,217.5 220,212 230,208.75 250,208.75 260,212.5 272.5,217.5 285,230 300,245 315,258.75 325,262 340,264.5 355,263.25 370,265 382.5,269.5 395,275 403.75,275 412.5,270 425,260 440,247.5 452.5,236.25 465,222.5 475,212.5 490,203.75 505,195 522.5,188.75 537.5,177.5 550,167.5 560,163.75 570,157.5 580,150 587.5,148.75 600,153.75 612.5,162.5 620,165 635,171.25 650,175.5 665,175 680,173.75 695,176.25 705,180 715,187.5 730,196.25 745,205 760,208.75 775,208.75 790,207 805,206.25 820,209.5 835,214.5 845,218.75 860,225 870,233.75 882.5,246.25 895,255 905,258.25 915,260 925,259.25 937.5,260.75 950,267.5 962.5,272.5 975,276.25 990,277 1005,282.5 1020,286.25 1032.5,288 1042.5,285 1052.5,278.75 1065,275.5 1077.5,274.5 1090,276.25 1100,278.75 1110,281.25 1125,280 1140,277.5 1155,275 1170,271.25 1180,267 1187.5,262.5" fill="none" stroke="#50208A" stroke-width="1.25" stroke-linejoin="round" />
<polyline points="67,67 95,88 110,96.5 120,100 140,108.75 160,122.5 180,134.5 195,145 210,153.75 235,170 260,187.5 285,205 310,217.5 335,226.25 340,228 365,235.5 385,240 402.5,243 415,241.25 440,237.5 457.5,232.5 475,226.25 495,223 515,220 530,216.25 552.5,213.25 565,213 585,210.5 597.5,211.25 620,211.5 635,212.5 650,213.75 670,209.5 695,203.75 715,199.5 732.5,193.75 750,190 760,188 782.5,188 800,187 820,188 835,187 845,188.75 857.5,193.75 870,200 882.5,206.25 895,211.25 907.5,214.5 920,215 937.5,215.5 950,220 962.5,225 975,231.25 990,236.25 1005,241.25 1020,244.5 1035,247.5 1050,248.25 1065,251.25 1080,255 1095,257.5 1110,260.5 1125,262.5 1140,263.75 1155,265 1170,265.5 1180,264.25 1187.5,263.75" fill="none" stroke="#1C1CF0" stroke-width="1.25" stroke-linejoin="round" />
<polyline points="67,45 85,50 115,56.25 135,62 160,68 180,72.5 210,77.5 235,83.75 260,88.75 285,96.25 310,104.5 335,110.5 365,117 390,124.25 415,128.75 440,132.5 465,135 490,138.75 515,142 540,143.75 565,146.25 590,149.25 615,153 640,155.5 660,156.25 670,157 695,157.5 720,158 745,158 770,157.5 795,158.25 820,160 845,162.5 870,165 895,167 920,168.25 950,170.75 975,173.25 1000,174.25 1025,174.25 1050,173.75 1075,173.25 1100,172.5 1125,171.75 1150,172.5 1175,173.75 1187.5,174.5" fill="none" stroke="#FF80FF" stroke-width="1.2" stroke-linejoin="round" />
<polyline points="67.5,507.5 75,492.5 82.5,478.75 90,468 100,456.25 110,443.75 116.25,437.5 123.75,435 130,437 137.5,443 147.5,456.25 157.5,472.5 167.5,482.5 175,491.25 180,496.25 186.25,498.25 192.5,492.5 200,483.75 207.5,476.25 214.5,471.25 225,476.25 235,487.5 245,494.5 255,498.75 265,503.75 275,510 285,516.25 291.25,518.25 298.75,516.25 307.5,508.75 315,501.25 320,495 330,480 340,462.5 347.5,451.25 354.5,447.5 365,450 375,450.5 383.75,455 390,463.75 397,475 403.75,480.5 411.25,473.75 420,463.75 431.25,452.5 440,446.25 447.5,442.5 457.5,440.5 466.25,439.25 472.5,448.75 480,462.5 487.5,476.25 495,486.25 502,493.75 508,495.5 515,490 522.5,483.75 530,475 536.25,467.5 543.75,461.25 550.75,455.5 557.5,456.25 565,459.25 572.5,467.5 585,478.75 595,491.25 600,497 607.5,505 617.5,513 627.5,518.25 635,518.25 641.25,517 648.75,506.25 655,493.75 662.5,480 669.5,471.25 676.25,467.5 683.75,469.5 690,469.5 697.5,471.75 705,477 711.25,482.5 718.25,485.5 725,482.5 732.5,481.75 740,488 746.25,493.25 753,494.5 760,491.25 767.5,485 775,479.5 781.25,475.5 788.25,469.5 795,469.5 802.5,476.25 810,483.25 817.5,490 823.75,495 830.75,501.25 837.5,502.5 845,500.5 851.25,501.25 858.75,503.25 865,506.25 872.5,509.5 879.5,512.5 886.25,512.5 893.75,510.5 900,503 907.5,493.75 915,485 922.5,476.25 928.75,470.75 936.25,467 942.5,467.5 950,470 957.5,475.75 963.75,481.25 971.25,484.25 978.75,485.5 985,485.5 992,484.25 998.75,487.5 1006.25,489.5 1012.5,490.5 1020,489.5 1027.5,486.25 1033.75,485 1041.25,478.75 1047.5,475.5 1054.25,475.5 1061.25,481.25 1068.75,488.75 1076.25,492.5 1082.5,495.75 1090,490 1097.5,486.25 1103.75,481.75 1111.25,475 1117.5,468 1125,459.5 1131.25,456.25 1138.75,452 1145,447 1152.5,442.5 1160,440.5 1166.25,439.5 1173.75,439.5 1181.25,436.25 1187.5,434.5" fill="none" stroke="#264466" stroke-width="1.15" stroke-linejoin="round" />
<polyline points="67.5,513.25 75,510 85,501.25 95,490 105,478.75 115,467.5 125,459.5 135,454.25 142.5,453 150,455 162.5,461.75 175,471.25 187.5,479.5 200,482.5 210,481.25 220,478.25 228.75,478 240,481.25 250,485 262.5,490.5 275,496.75 287.5,503.75 297.5,507.5 306.25,508.75 315,506.75 325,502 335,493.75 345,483.75 355,473.75 365,467 375,462.5 385,461.25 395,463 405,467.5 415,468.75 425,467 435,462.5 445,457.5 455,453.25 465,449.5 472.5,449.25 480,451.25 490,458.75 500,467 510,473.75 517.5,477.5 527.5,478.25 535,476.25 543.75,473.75 552.5,468.75 562.5,465.5 572.5,465.5 585,469.5 595,475 605,482.5 610,487.5 620,496.25 630,502 640,505.5 648.75,506.25 656.25,503.75 665,496.25 675,488.75 685,483.25 695,479.5 705,478.25 715,479.5 725,481.25 735,481.75 745,484.25 755,486.75 765,487.5 775,485.75 785,482.5 795,478.75 805,477 811.25,478.75 820,482.5 830,486.75 840,490.75 850,493.75 860,496.75 870,499.5 880,502.5 890,505 898.75,505.75 907.5,503.5 915,499.5 922.5,495 930,489.5 940,483.75 948.75,479.5 956.25,478 965,479.5 975,481.25 985,482.5 992.5,482.5 1002.5,484.25 1012.5,486.25 1025,486.25 1035,486.25 1045,484.25 1053.75,481.75 1062.5,481.75 1072.5,483.75 1082.5,487.5 1092.5,487.5 1102.5,486.75 1112.5,482.5 1122.5,477 1132.5,471.25 1140,467 1150,460 1160,455 1170,450.75 1175,448.75 1181.25,447 1187.5,444.25" fill="none" stroke="#FF8C1A" stroke-width="1.15" stroke-linejoin="round" />
<polyline points="67.25,687.75 74.25,678 81.25,667 88.25,660.75 95.25,650.75 102.25,639.5 109.25,627 116.25,615.25 123.25,610.75 130.25,606.25 137.25,606.25 144.25,610.25 151.25,611.25 158.25,612 165.25,612.5 172.25,615 179.25,616.25 186.25,616.5 193.25,610.25 200.25,608.75 207.25,606.5 214.25,605.25 221.25,610.75 228.25,614.5 235.25,623.25 242.25,629 249.25,633.25 256.25,635.25 263.25,640.75 270.25,645 277.25,651.5 284.25,657 291.25,659.5 298.25,659.5 305.25,656.5 312.25,655.25 319.25,650.75 326.25,645.75 333.25,635.25 340.25,624.5 347.25,612.75 354.25,608.75 361.25,607.5 368.25,602.5 375.25,596.25 382.25,597 389.25,599 396.25,605.75 403.25,604.5 410.25,590.75 417.25,582 424.25,573.25 431.25,565.75 438.25,562 445.25,560.25 452.25,560.25 459.25,561.5 466.25,560.25 473.25,566.5 480.25,572.75 487.25,579.5 494.25,584 501.25,588.25 508.25,588.25 515.25,586.5 522.25,584 529.25,574 536.25,569 543.25,565 550.25,561.25 557.25,565.25 564.25,569.5 571.25,575.75 578.25,578.25 585.25,585.75 592.25,595 599.25,602.5 606.25,610.75 613.25,617 620.25,622 627.25,625 634.25,626.25 641.25,625.25 648.25,623.25 655.25,618.25 662.25,616.5 669.25,615.25 676.25,616.25 683.25,618.25 690.25,616.5 697.25,616.25 704.25,616.5 711.25,617 718.25,616.25 725.25,613.25 732.25,613.25 739.25,617 746.25,619 753.25,618.25 760.25,617.5 767.25,615 774.25,613.25 781.25,612 788.25,611.25 795.25,612 802.25,615 809.25,619 816.25,622 823.25,624 830.25,626.25 837.25,625.25 844.25,623.75 851.25,626.5 858.25,633.25 865.25,644.5 872.25,655 879.25,662.75 886.25,665.25 893.25,663.25 900.25,657.5 907.25,643.25 914.25,633.25 921.25,624.5 928.25,617 935.25,614.5 942.25,614.5 949.25,615.75 956.25,618.25 963.25,617.5 970.25,615.25 977.25,613.25 984.25,611.25 991.25,610.25 998.25,613.25 1005.25,616.25 1012.25,617 1019.25,617 1026.25,617 1033.25,618.25 1040.25,613.25 1047.25,612 1054.25,614.5 1061.25,619 1068.25,621.25 1075.25,622.5 1082.25,622.5 1089.25,616.5 1096.25,615.25 1103.25,612 1110.25,609.5 1117.25,606.5 1124.25,604 1131.25,603.25 1138.25,601.5 1145.25,597 1152.25,590.75 1159.25,587.75 1166.25,584.5 1173.25,583.25 1180.25,579 1187.25,577" fill="none" stroke="#264466" stroke-width="1.15" stroke-linejoin="round" />
<polyline points="67.25,688.75 75,686.25 87.5,678.25 100,667 110,657 120,644.5 130,634 140,627 150,622.5 165,618.25 180,618.25 190,617 200,614.5 207.5,613.25 215,611.25 222.5,611.25 232.5,613.75 242.5,618.25 252.5,622.5 262.5,627 272.5,632 282.5,638.25 292.5,643.25 302.5,647 312.5,649 320,650.25 330,648.25 340,642 350,634 360,626.5 370,620.75 380,614 390,609.5 400,609 407.5,607 415,602.5 425,594 435,585.75 445,578.25 455,573.25 465,570.25 475,569 482.5,570 492.5,574 502.5,577.75 512.5,580 522.5,581.5 532.5,579 542.5,575.25 552.5,571.5 560,570 567.5,570.25 575,572 585,575.25 595,581.5 600,584.5 610,593.25 620,600.75 630,607 640,611.5 650,614.5 660,615.75 670,615.75 680,616.25 695,616.5 710,616.5 725,616.25 735,615.25 745,617 755,617.75 765,617 775,616.25 785,615 795,614.5 805,615.25 815,617 825,618.75 835,620.75 845,621.5 855,623.25 865,629.5 875,638.25 885,645 895,649.5 902.5,650.25 910,648.5 915,645 922.5,640.75 932.5,633.75 942.5,628.25 955,624.5 967.5,622 980,619.5 991.25,616.5 1005,616.5 1020,616.5 1032.5,617.5 1045,615.75 1055,615.25 1065,617 1075,618.25 1085,619.5 1096.25,618.25 1110,615 1124.25,611.25 1138.25,608.25 1152.25,603.75 1166.25,596.25 1180.25,590.75 1187.25,588.25" fill="none" stroke="#FF8C1A" stroke-width="1.15" stroke-linejoin="round" />
<text x="4" y="15" font-family='"Liberation Serif","Noto Serif CJK SC",serif' font-size="12" fill="#505050" font-weight="600" >欧元美元</text>
<text x="55.8" y="15" font-family='"Liberation Serif","Noto Serif CJK SC",serif' font-size="12" fill="#505050" text-anchor="middle" >(</text>
<text x="58.3" y="15" font-family='"Liberation Serif","Noto Serif CJK SC",serif' font-size="12" fill="#505050" textLength="35.4" lengthAdjust="spacingAndGlyphs" >EURUSD</text>
<text x="96.2" y="15" font-family='"Liberation Serif","Noto Serif CJK SC",serif' font-size="12" fill="#505050" text-anchor="middle" >)</text>
<text x="103.8 109 115" y="15" font-family='"Liberation Serif","Noto Serif CJK SC",serif' font-size="12" fill="#505050" text-anchor="middle" >&lt;60</text>
<text x="118" y="15" font-family='"Liberation Serif","Noto Serif CJK SC",serif' font-size="12" fill="#505050" font-weight="600" >分</text>
<text x="132.2" y="15" font-family='"Liberation Serif","Noto Serif CJK SC",serif' font-size="12" fill="#505050" text-anchor="middle" >&gt;</text>
<text x="186.8 192 198 204 210 216 222 228 234 239.2" y="15" font-family='"Liberation Serif","Noto Serif CJK SC",serif' font-size="12" fill="#505050" text-anchor="middle" >[14:20:02]</text>
<text x="249" y="15" font-family='"Liberation Serif","Noto Serif CJK SC",serif' font-size="12" fill="#505050" font-weight="600" >最新</text>
<text x="276" y="15" font-family='"Liberation Serif","Noto Serif CJK SC",serif' font-size="12" fill="#505050" text-anchor="middle" >:</text>
<text x="282 287.2 294 300 306 312" y="15" font-family='"Liberation Serif","Noto Serif CJK SC",serif' font-size="12" fill="#FF0000" text-anchor="middle" >1.2304</text>
<text x="324 330 335.2 342 348" y="15" font-family='"Liberation Serif","Noto Serif CJK SC",serif' font-size="12" fill="#FF0000" font-weight="bold" text-anchor="middle" >+0.45</text>
<text x="351.3" y="15" font-family='"Liberation Serif","Noto Serif CJK SC",serif' font-size="12" fill="#FF0000" font-weight="bold" textLength="5.4" lengthAdjust="spacingAndGlyphs" >%</text>
<text x="363" y="15" font-family='"Liberation Serif","Noto Serif CJK SC",serif' font-size="12" fill="#505050" font-weight="600" >今开</text>
<text x="390" y="15" font-family='"Liberation Serif","Noto Serif CJK SC",serif' font-size="12" fill="#505050" text-anchor="middle" >:</text>
<text x="396 401.2 408 414 420 426" y="15" font-family='"Liberation Serif","Noto Serif CJK SC",serif' font-size="12" fill="#008000" text-anchor="middle" >1.2248</text>
<text x="437" y="15" font-family='"Liberation Serif","Noto Serif CJK SC",serif' font-size="12" fill="#505050" font-weight="600" >最高</text>
<text x="464" y="15" font-family='"Liberation Serif","Noto Serif CJK SC",serif' font-size="12" fill="#505050" text-anchor="middle" >:</text>
<text x="470 475.2 482 488 494 500" y="15" font-family='"Liberation Serif","Noto Serif CJK SC",serif' font-size="12" fill="#FF0000" text-anchor="middle" >1.2325</text>
<text x="511" y="15" font-family='"Liberation Serif","Noto Serif CJK SC",serif' font-size="12" fill="#505050" font-weight="600" >最低</text>
<text x="538" y="15" font-family='"Liberation Serif","Noto Serif CJK SC",serif' font-size="12" fill="#505050" text-anchor="middle" >:</text>
<text x="544 549.2 556 562 568 574" y="15" font-family='"Liberation Serif","Noto Serif CJK SC",serif' font-size="12" fill="#008000" text-anchor="middle" >1.2225</text>
<text x="585" y="15" font-family='"Liberation Serif","Noto Serif CJK SC",serif' font-size="12" fill="#505050" font-weight="600" >昨收</text>
<text x="612" y="15" font-family='"Liberation Serif","Noto Serif CJK SC",serif' font-size="12" fill="#505050" text-anchor="middle" >:</text>
<text x="618 623.2 630 636 642 648" y="15" font-family='"Liberation Serif","Noto Serif CJK SC",serif' font-size="12" fill="#505050" text-anchor="middle" >1.2249</text>
<text x="65.3" y="33" font-family='"Liberation Serif","Noto Serif CJK SC",serif' font-size="12" fill="#505050" textLength="5.4" lengthAdjust="spacingAndGlyphs" >K</text>
<text x="80.3" y="33" font-family='"Liberation Serif","Noto Serif CJK SC",serif' font-size="12" fill="#1F3864" textLength="11.4" lengthAdjust="spacingAndGlyphs" >MA</text>
<text x="95 101 107 113 118.2 125 131 137 143" y="33" font-family='"Liberation Serif","Noto Serif CJK SC",serif' font-size="12" fill="#1F3864" text-anchor="middle" >10:1.2279</text>
<text x="152.3" y="33" font-family='"Liberation Serif","Noto Serif CJK SC",serif' font-size="12" fill="#FF8000" textLength="11.4" lengthAdjust="spacingAndGlyphs" >MA</text>
<text x="167 173 179 185 190.2 197 203 209 215" y="33" font-family='"Liberation Serif","Noto Serif CJK SC",serif' font-size="12" fill="#FF8000" text-anchor="middle" >10:1.2279</text>
<text x="224.3" y="33" font-family='"Liberation Serif","Noto Serif CJK SC",serif' font-size="12" fill="#4B0082" textLength="11.4" lengthAdjust="spacingAndGlyphs" >MA</text>
<text x="239 245 251 257 262.2 269 275 281 287" y="33" font-family='"Liberation Serif","Noto Serif CJK SC",serif' font-size="12" fill="#4B0082" text-anchor="middle" >26:1.2245</text>
<text x="296.3" y="33" font-family='"Liberation Serif","Noto Serif CJK SC",serif' font-size="12" fill="#0000FF" textLength="11.4" lengthAdjust="spacingAndGlyphs" >MA</text>
<text x="311 317 323 329 334.2 341 347 353 359" y="33" font-family='"Liberation Serif","Noto Serif CJK SC",serif' font-size="12" fill="#0000FF" text-anchor="middle" >62:1.2244</text>
<text x="368.3" y="33" font-family='"Liberation Serif","Noto Serif CJK SC",serif' font-size="12" fill="#FF80FF" textLength="11.4" lengthAdjust="spacingAndGlyphs" >MA</text>
<text x="383 389 395 401 407 412.2 419 425 431 437" y="33" font-family='"Liberation Serif","Noto Serif CJK SC",serif' font-size="12" fill="#FF80FF" text-anchor="middle" >250:1.2329</text>
<text x="61" y="49.5" font-family='"Liberation Sans","Noto Sans CJK SC",sans-serif' font-size="12" fill="#000000" text-anchor="end" letter-spacing="0.2">05262300</text>
<text x="14.5" y="64" font-family='"Liberation Serif","Noto Serif CJK SC",serif' font-size="12" fill="#1F3864" font-weight="600" >开　盘</text>
<text x="61" y="77" font-family='"Liberation Sans","Noto Sans CJK SC",sans-serif' font-size="12" fill="#008000" text-anchor="end" >1.2270</text>
<text x="14.5" y="92" font-family='"Liberation Serif","Noto Serif CJK SC",serif' font-size="12" fill="#1F3864" font-weight="600" >最　高</text>
<text x="61" y="105" font-family='"Liberation Sans","Noto Sans CJK SC",sans-serif' font-size="12" fill="#808080" text-anchor="end" >1.2271</text>
<text x="14.5" y="120" font-family='"Liberation Serif","Noto Serif CJK SC",serif' font-size="12" fill="#1F3864" font-weight="600" >最　低</text>
<text x="61" y="133" font-family='"Liberation Sans","Noto Sans CJK SC",sans-serif' font-size="12" fill="#008000" text-anchor="end" >1.2219</text>
<text x="14.5" y="148" font-family='"Liberation Serif","Noto Serif CJK SC",serif' font-size="12" fill="#1F3864" font-weight="600" >收　盘</text>
<text x="61" y="161" font-family='"Liberation Sans","Noto Sans CJK SC",sans-serif' font-size="12" fill="#008000" text-anchor="end" >1.2220</text>
<text x="11.5" y="176" font-family='"Liberation Serif","Noto Serif CJK SC",serif' font-size="12" fill="#1F3864" font-weight="600" letter-spacing="3">成交量</text>
<text x="61" y="189" font-family='"Liberation Sans","Noto Sans CJK SC",sans-serif' font-size="12" fill="#1F3864" text-anchor="end" >0</text>
<text x="8.5" y="204" font-family='"Liberation Serif","Noto Serif CJK SC",serif' font-size="12" fill="#1F3864" font-weight="600" >成交金额</text>
<text x="61" y="217" font-family='"Liberation Sans","Noto Sans CJK SC",sans-serif' font-size="12" fill="#1F3864" text-anchor="end" >0.00</text>
<text x="14.5" y="232" font-family='"Liberation Serif","Noto Serif CJK SC",serif' font-size="12" fill="#1F3864" font-weight="600" >涨　跌</text>
<text x="61" y="245" font-family='"Liberation Sans","Noto Sans CJK SC",sans-serif' font-size="12" fill="#008000" text-anchor="end" >-0.0051</text>
<text x="14.5" y="260" font-family='"Liberation Serif","Noto Serif CJK SC",serif' font-size="12" fill="#1F3864" font-weight="600" >幅　度</text>
<text x="61" y="273" font-family='"Liberation Sans","Noto Sans CJK SC",sans-serif' font-size="12" fill="#008000" text-anchor="end" >-0.04%</text>
<text x="26.5 32.7 40.5 47.5 54.5" y="314" font-family='"Liberation Serif","Noto Serif CJK SC",serif' font-size="13" fill="#707070" text-anchor="middle" >1.220</text>
<text x="26.5 32.7 40.5 47.5 54.5" y="366" font-family='"Liberation Serif","Noto Serif CJK SC",serif' font-size="13" fill="#707070" text-anchor="middle" >1.215</text>
<text x="47.5 54.5" y="442" font-family='"Liberation Serif","Noto Serif CJK SC",serif' font-size="13" fill="#707070" text-anchor="middle" >80</text>
<text x="47.5 54.5" y="492" font-family='"Liberation Serif","Noto Serif CJK SC",serif' font-size="13" fill="#707070" text-anchor="middle" >40</text>
<text x="26.5 32.7 40.5 47.5 54.5" y="550" font-family='"Liberation Serif","Noto Serif CJK SC",serif' font-size="13" fill="#707070" text-anchor="middle" >0.004</text>
<text x="54.5" y="611" font-family='"Liberation Serif","Noto Serif CJK SC",serif' font-size="13" fill="#707070" text-anchor="middle" >0</text>
<text x="19.5 26.5 32.7 40.5 47.5 54.5" y="672" font-family='"Liberation Serif","Noto Serif CJK SC",serif' font-size="13" fill="#707070" text-anchor="middle" >-0.004</text>
<text x="476.5 482.7 490.5 497.5 504.5 511.5" y="54" font-family='"Liberation Serif","Noto Serif CJK SC",serif' font-size="13" fill="#1F3864" text-anchor="middle" >1.2449</text>
<path d="M517.5,49.5H528M524.5,46.5L528,49.5L524.5,52.5" stroke="#606060" fill="none" stroke-width="1"/>
<text x="819.5 825.7 833.5 840.5 847.5 854.5" y="406" font-family='"Liberation Serif","Noto Serif CJK SC",serif' font-size="13" fill="#1F3864" text-anchor="middle" >1.2112</text>
<path d="M859.5,401.5H871M867.5,398.5L871,401.5L867.5,404.5" stroke="#606060" fill="none" stroke-width="1"/>
<text x="65.3" y="430" font-family='"Liberation Serif","Noto Serif CJK SC",serif' font-size="12" fill="#505050" textLength="35.4" lengthAdjust="spacingAndGlyphs" >SLOWKD</text>
<text x="104.8 110 115.2 122 127.2 134 139.2 146 151.2" y="430" font-family='"Liberation Serif","Noto Serif CJK SC",serif' font-size="12" fill="#505050" text-anchor="middle" >(9,3,3,5)</text>
<text x="160.3" y="430" font-family='"Liberation Serif","Noto Serif CJK SC",serif' font-size="12" fill="#1F3864" textLength="5.4" lengthAdjust="spacingAndGlyphs" >K</text>
<text x="169 175 181 186.2 193 199 205 211" y="430" font-family='"Liberation Serif","Noto Serif CJK SC",serif' font-size="12" fill="#1F3864" text-anchor="middle" >:81.8702</text>
<text x="220.3" y="430" font-family='"Liberation Serif","Noto Serif CJK SC",serif' font-size="12" fill="#FF8000" textLength="5.4" lengthAdjust="spacingAndGlyphs" >D</text>
<text x="229 235 241 246.2 253 259 265 271" y="430" font-family='"Liberation Serif","Noto Serif CJK SC",serif' font-size="12" fill="#FF8000" text-anchor="middle" >:74.1057</text>
<text x="65.3" y="534" font-family='"Liberation Serif","Noto Serif CJK SC",serif' font-size="12" fill="#505050" textLength="23.4" lengthAdjust="spacingAndGlyphs" >MACD</text>
<text x="92.8 98 104 109.2 116 122 127.2 134 139.2" y="534" font-family='"Liberation Serif","Noto Serif CJK SC",serif' font-size="12" fill="#505050" text-anchor="middle" >(26,12,9)</text>
<text x="148.3" y="534" font-family='"Liberation Serif","Noto Serif CJK SC",serif' font-size="12" fill="#1F3864" textLength="23.4" lengthAdjust="spacingAndGlyphs" >DIFF</text>
<text x="175 181 186.2 193 199 205 211" y="534" font-family='"Liberation Serif","Noto Serif CJK SC",serif' font-size="12" fill="#1F3864" text-anchor="middle" >:0.0019</text>
<text x="220.3" y="534" font-family='"Liberation Serif","Noto Serif CJK SC",serif' font-size="12" fill="#FF8000" textLength="17.4" lengthAdjust="spacingAndGlyphs" >DEA</text>
<text x="241 247 252.2 259 265 271 277" y="534" font-family='"Liberation Serif","Noto Serif CJK SC",serif' font-size="12" fill="#FF8000" text-anchor="middle" >:0.0012</text>
<text x="286.3" y="534" font-family='"Liberation Serif","Noto Serif CJK SC",serif' font-size="12" fill="#505050" textLength="23.4" lengthAdjust="spacingAndGlyphs" >MACD</text>
<text x="313 319 324.2 331 337 343 349" y="534" font-family='"Liberation Serif","Noto Serif CJK SC",serif' font-size="12" fill="#505050" text-anchor="middle" >:0.0015</text>
<text x="37 43" y="702.8" font-family='"Liberation Serif","Noto Serif CJK SC",serif' font-size="12" fill="#606060" text-anchor="middle" >60</text>
<text x="46" y="703" font-family='"Liberation Serif","Noto Serif CJK SC",serif' font-size="12" fill="#606060" font-weight="600" >分</text>
<text x="69 75 81 87" y="702.8" font-family='"Liberation Serif","Noto Serif CJK SC",serif' font-size="12" fill="#606060" text-anchor="middle" >0526</text>
<text x="239 245" y="702.8" font-family='"Liberation Serif","Noto Serif CJK SC",serif' font-size="12" fill="#606060" text-anchor="middle" >27</text>
<text x="407 413" y="702.8" font-family='"Liberation Serif","Noto Serif CJK SC",serif' font-size="12" fill="#606060" text-anchor="middle" >28</text>
<text x="575 581" y="702.8" font-family='"Liberation Serif","Noto Serif CJK SC",serif' font-size="12" fill="#606060" text-anchor="middle" >29</text>
<text x="737 743 749 755" y="702.8" font-family='"Liberation Serif","Noto Serif CJK SC",serif' font-size="12" fill="#606060" text-anchor="middle" >0601</text>
<text x="911 917" y="702.8" font-family='"Liberation Serif","Noto Serif CJK SC",serif' font-size="12" fill="#606060" text-anchor="middle" >02</text>
<text x="1079 1085" y="702.8" font-family='"Liberation Serif","Noto Serif CJK SC",serif' font-size="12" fill="#606060" text-anchor="middle" >03</text>
<g shape-rendering="crispEdges" fill="none" stroke="#6CB4FF">
<rect x="1223.5" y="3.5" width="15" height="13"/>
<rect x="1240.5" y="3.5" width="15" height="13"/>
<rect x="1260.5" y="3.5" width="15" height="13"/>
</g>
<g fill="none" stroke="#6CB4FF" stroke-width="1">
<path d="M1225.5,9.5L1229.5,5.5V7.5H1236.5V11.5H1229.5V13.5Z"/>
<path d="M1253.5,9.5L1249.5,5.5V7.5H1242.5V11.5H1249.5V13.5Z"/>
<rect x="1266.5" y="5.5" width="6" height="5"/><line x1="1266" y1="6.5" x2="1273" y2="6.5"/>
<rect x="1263.5" y="9.5" width="6" height="5" fill="#FDFEEB"/><line x1="1263" y1="10.5" x2="1270" y2="10.5"/>
</g>
<g shape-rendering="crispEdges">
<rect x="1" y="710" width="1278" height="6" fill="#CDD5EE" />
<line x1="1" y1="709.5" x2="1279" y2="709.5" stroke="#6C6C74" stroke-width="1" />
<rect x="1089" y="710" width="82" height="6" fill="#0000FF" />
<line x1="368.5" y1="710" x2="368.5" y2="716" stroke="#7C94C0" stroke-width="1" />
<line x1="1211.5" y1="710" x2="1211.5" y2="716" stroke="#7C94C0" stroke-width="1" />
<line x1="1243.5" y1="710" x2="1243.5" y2="716" stroke="#7C94C0" stroke-width="1" />
</g>
<text x="2" y="720.5" font-family='"Liberation Sans","Noto Sans CJK SC",sans-serif' font-size="12" fill="#0000FF" font-weight="bold" >沪</text>
<text x="25" y="720.5" font-family='"Liberation Sans","Noto Sans CJK SC",sans-serif' font-size="12" fill="#FF0000" font-weight="bold" >2575.45</text>
<text x="98.5" y="720.5" font-family='"Liberation Sans","Noto Sans CJK SC",sans-serif' font-size="12" fill="#FF0000" font-weight="bold" >3.73</text>
<text x="131" y="720.5" font-family='"Liberation Sans","Noto Sans CJK SC",sans-serif' font-size="12" fill="#000000" font-weight="bold" >696.5亿</text>
<text x="189.5" y="720.5" font-family='"Liberation Sans","Noto Sans CJK SC",sans-serif' font-size="12" fill="#0000FF" font-weight="bold" >深</text>
<text x="206" y="720.5" font-family='"Liberation Sans","Noto Sans CJK SC",sans-serif' font-size="12" fill="#FF0000" font-weight="bold" >10221.06</text>
<text x="279" y="720.5" font-family='"Liberation Sans","Noto Sans CJK SC",sans-serif' font-size="12" fill="#FF0000" font-weight="bold" >32.02</text>
<text x="318.5" y="720.5" font-family='"Liberation Sans","Noto Sans CJK SC",sans-serif' font-size="12" fill="#000000" font-weight="bold" >699.0亿</text>
<text x="1055" y="722" font-family='"Liberation Sans","Noto Sans CJK SC",sans-serif' font-size="11" fill="#000000" >及能源</text>
<text x="1090" y="718.5" font-family='"Liberation Sans","Noto Sans CJK SC",sans-serif' font-size="14" fill="#FFFF00" font-weight="bold" >▲</text>
<text x="1103" y="722" font-family='"Liberation Sans","Noto Sans CJK SC",sans-serif' font-size="14" fill="#FFFF00" font-weight="bold" >21212121</text>
<text x="1174.5" y="719.5" font-family='"Liberation Sans","Noto Sans CJK SC",sans-serif' font-size="13" fill="#0000FF" font-weight="bold" >po</text>
<text x="1190.3" y="719.5" font-family='"Liberation Sans","Noto Sans CJK SC",sans-serif' font-size="13" fill="#FF0000" font-weight="bold" >b</text>
<text x="1198.2" y="719.5" font-family='"Liberation Sans","Noto Sans CJK SC",sans-serif' font-size="13" fill="#0000FF" font-weight="bold" >o</text>
<path d="M1217.5,712.5H1227.5L1222.5,718.5Z" fill="#E8ECFF" stroke="#1030D0" stroke-width="1.6"/><path d="M1235.5,712h2v5h-2z" fill="#1030D0"/>
<text x="1245.5" y="720" font-family='"Liberation Sans","Noto Sans CJK SC",sans-serif' font-size="13" fill="#1F3864" >14:20</text>
</svg>
</body></html>
